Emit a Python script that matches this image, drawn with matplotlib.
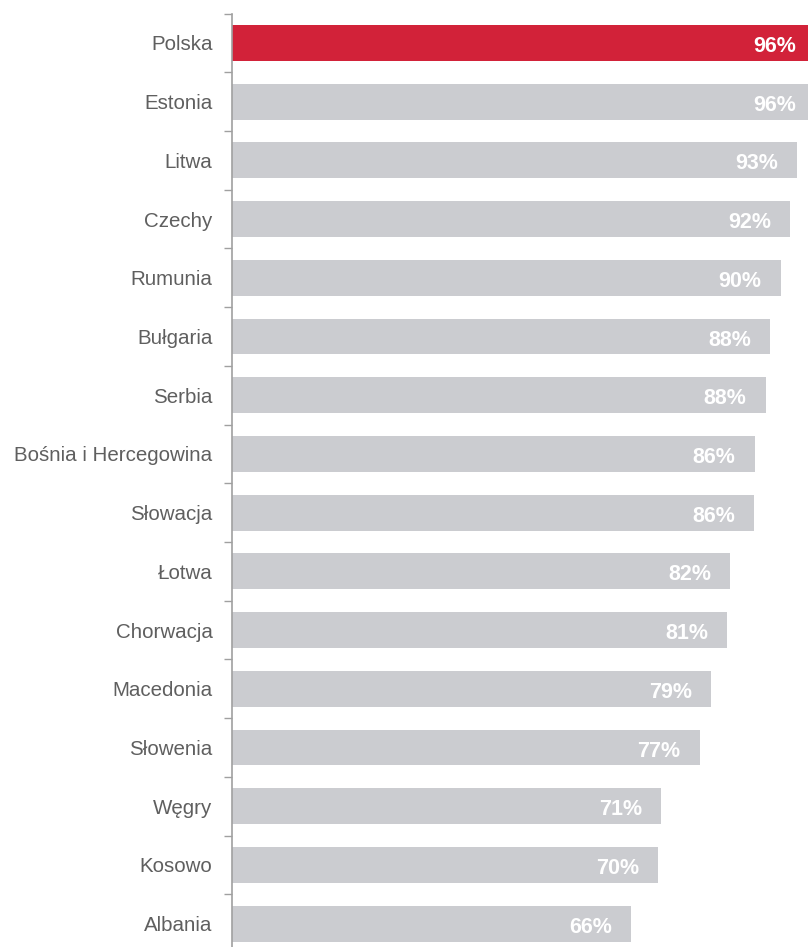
import numpy as np
import matplotlib.pyplot as plt
from matplotlib.ticker import FixedLocator

# ----------------------------
# Data
# ----------------------------
countries = ['Polska', 'Estonia', 'Litwa', 'Czechy', 'Rumunia', 'Bułgaria', 'Serbia',
             'Bośnia i Hercegowina', 'Słowacja', 'Łotwa', 'Chorwacja', 'Macedonia',
             'Słowenia', 'Węgry', 'Kosowo', 'Albania']
values = [96.45, 96.4, 93.4, 92.2, 90.7, 88.9, 88.2, 86.4, 86.3, 82.3, 81.8, 79.2,
          77.3, 70.9, 70.4, 66.0]
labels = ['96%', '96%', '93%', '92%', '90%', '88%', '88%', '86%', '86%', '82%', '81%',
          '79%', '77%', '71%', '70%', '66%']
highlight = 'Polska'

red = '#D22239'
grey = '#CBCCD0'
axis_grey = '#A0A0A0'

plt.rcParams['font.family'] = ['Liberation Sans', 'DejaVu Sans']

fig = plt.figure(figsize=(8.08, 9.47), dpi=100)
W, H = 808, 947
# axes spans from x=232 to right edge, y from ~13.6 px to beyond bottom
ax = fig.add_axes([232 / W, -6 / H, (W - 232) / W, (H - 13.6 + 6) / H])

y = np.arange(len(countries))
colors = [red if c == highlight else grey for c in countries]
ax.barh(y, values, height=0.61, color=colors, zorder=2)

for yi, v, lab in zip(y, values, labels):
    ax.annotate(lab, xy=(v, yi), xytext=(-19, -1), textcoords='offset pixels',
                ha='right', va='center_baseline', color='white', fontsize=15.5,
                fontweight='bold', annotation_clip=False)

ax.set_xlim(0, (W - 232) / 6.05)
ax.set_ylim(len(countries) - 0.5, -0.5)

ax.set_yticks(y)
ax.set_yticklabels(countries, fontsize=14.8, color='#5f5f5f')
ax.tick_params(axis='y', which='major', length=0, pad=14)
ax.yaxis.set_minor_locator(FixedLocator(np.arange(-0.5, len(countries), 1.0)))
ax.tick_params(axis='y', which='minor', length=6, width=1, color=axis_grey)
ax.set_xticks([])

for s in ['top', 'right', 'bottom']:
    ax.spines[s].set_visible(False)
ax.spines['left'].set_color(axis_grey)
ax.spines['left'].set_linewidth(1.2)

fig.savefig('out.png', dpi=100)
